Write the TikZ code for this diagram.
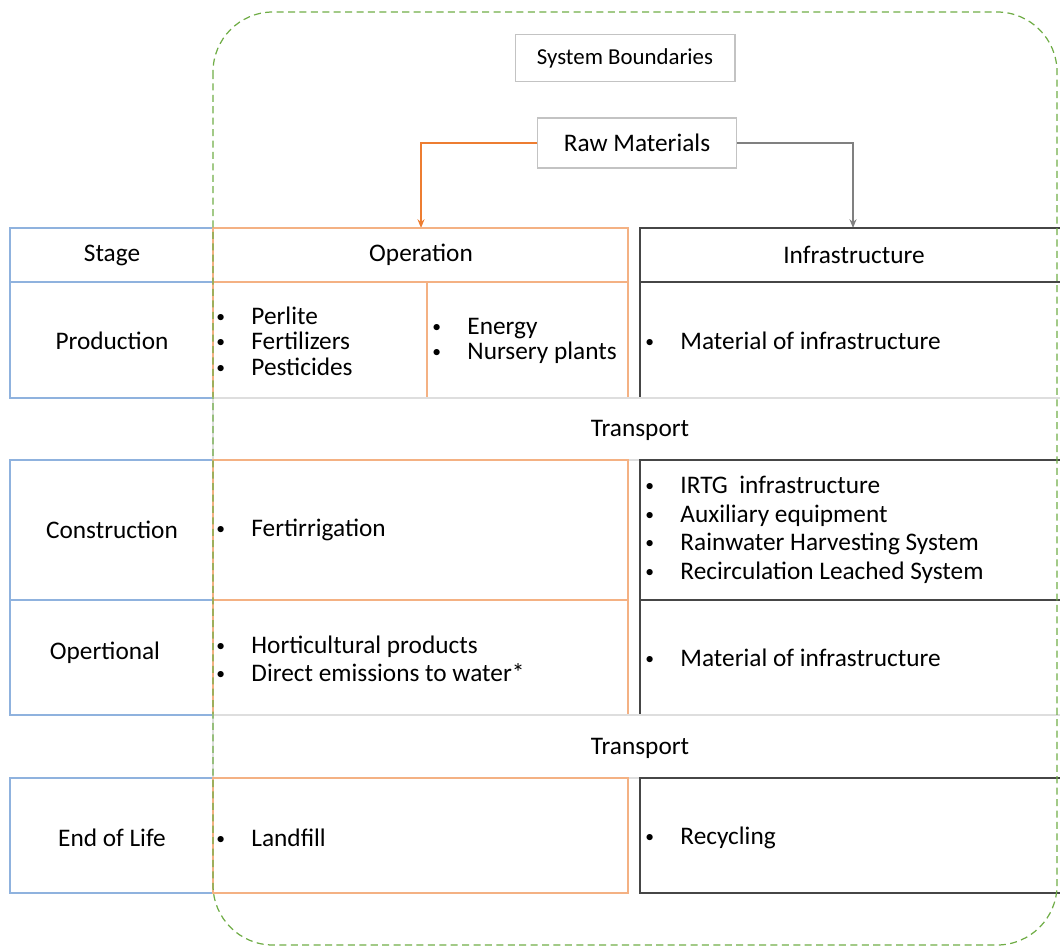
\documentclass[tikz,border=0pt]{standalone}
\usepackage{fontspec}
\setmainfont{Carlito}
\usetikzlibrary{arrows.meta}
\definecolor{stageblue}{RGB}{143,178,222}
\definecolor{oplight}{RGB}{244,177,131}
\definecolor{oparrow}{RGB}{237,125,49}
\definecolor{infradark}{RGB}{70,70,70}
\definecolor{infraarrow}{RGB}{128,128,128}
\definecolor{boxgrey}{RGB}{195,195,195}
\definecolor{transgrey}{RGB}{222,222,222}
\definecolor{boundgreen}{RGB}{112,173,71}
\newcommand{\itm}{\raisebox{1.2pt}{\fontsize{10}{10}\selectfont\textbullet}\hspace{15pt}}
\tikzset{
  cell/.style={font=\fontsize{14.4}{14.5}\selectfont, inner sep=0pt},
  items/.style={cell, anchor=west, align=left},
  stagebox/.style={draw=stageblue, line width=0.6pt},
  opbox/.style={draw=oplight, line width=0.6pt},
  infrabox/.style={draw=infradark, line width=1pt},
  transbox/.style={draw=transgrey, line width=0.8pt},
  titlebox/.style={cell, draw=boxgrey, line width=0.6pt, fill=white},
  feed/.style={line width=1.1pt, -{Stealth[length=5pt,width=4pt]}},
  bound/.style={draw=boundgreen, line width=0.7pt, dash pattern=on 4pt off 2.5pt, rounded corners=1.2cm}
}

\begin{document}
\begin{tikzpicture}[x=0.02cm, y=-0.02cm]
		%%%%% START %%%%%
		\clip (0,0) rectangle (1060,949);
		
		\node[titlebox, font=\fontsize{13}{14}\selectfont, minimum width=4.4cm, minimum height=0.94cm] (sysb) at (625,58) {System Boundaries};
		\node[titlebox, minimum width=3.98cm, minimum height=1cm] (raw) at (637,143) {Raw Materials};
		
		\coordinate (opin) at (421,228);
		\coordinate (infrain) at (853,228);
		\draw[feed, oparrow] (raw.west) -| (opin);
		\draw[feed, infraarrow] (raw.east) -| (infrain);
		
		% header
		\draw[stagebox] (10,228) rectangle (213,282);
		\draw[opbox] (213,228) rectangle (628,282);
		\draw[infrabox] (640,228) rectangle (1064,282);
		\node[cell] (stagehd) at (112,255) {Stage};
		\node[cell] (ophd) at (421,255) {Operation};
		\node[cell] (infrahd) at (854,255) {Infrastructure};
		
		% production
		\draw[stagebox] (10,282) rectangle (213,398);
		\draw[opbox] (213,282) rectangle (628,398);
		\draw[opbox] (427,282) -- (427,398);
		\draw[infrabox] (640,282) rectangle (1064,398);
		\node[cell] (prod) at (112,341) {Production};
		\node[items] (prodop) at (216,341) {\itm Perlite\\\itm Fertilizers\\\itm Pesticides};
		\node[items] (prodop2) at (432,341) {\itm Energy\\\itm Nursery plants};
		\node[items] (prodinfra) at (645,341) {\itm Material of infrastructure};
		
		\draw[transbox] (213,398) rectangle (1064,460);
		\node[cell] (trans1) at (640,430) {Transport};
		
		% construction
		\draw[stagebox] (10,460) rectangle (213,600);
		\draw[opbox] (213,460) rectangle (628,600);
		\draw[infrabox] (640,460) rectangle (1064,600);
		\node[cell] (cons) at (112,530) {Construction};
		\node[items] (consop) at (216,530) {\itm Fertirrigation};
		\node[items, font=\fontsize{14.4}{16.2}\selectfont] (consinfra) at (645,530) {\itm IRTG\ \ infrastructure\\\itm Auxiliary equipment\\\itm Rainwater Harvesting System\\\itm Recirculation Leached System};
		
		% operational
		\draw[stagebox] (10,600) rectangle (213,715);
		\draw[opbox] (213,600) rectangle (628,715);
		\draw[infrabox] (640,600) rectangle (1064,715);
		\node[cell] (oper) at (105,653) {Opertional};
		\node[items, font=\fontsize{14.4}{16}\selectfont] (operop) at (216,659) {\itm Horticultural products\\\itm Direct emissions to water*};
		\node[items] (operinfra) at (645,658) {\itm Material of infrastructure};
		
		\draw[transbox] (213,715) rectangle (1064,778);
		\node[cell] (trans2) at (640,748) {Transport};
		
		% end of life
		\draw[stagebox] (10,778) rectangle (213,893);
		\draw[opbox] (213,778) rectangle (628,893);
		\draw[infrabox] (640,778) rectangle (1064,893);
		\node[cell] (eol) at (112,838) {End of Life};
		\node[items] (eolop) at (216,838) {\itm Landfill};
		\node[items] (eolinfra) at (645,838) {\itm Recycling};
		
		\draw[bound] (213,12) rectangle (1057,945);
		
		%%%%% END %%%%%
	\end{tikzpicture}
\end{document}
